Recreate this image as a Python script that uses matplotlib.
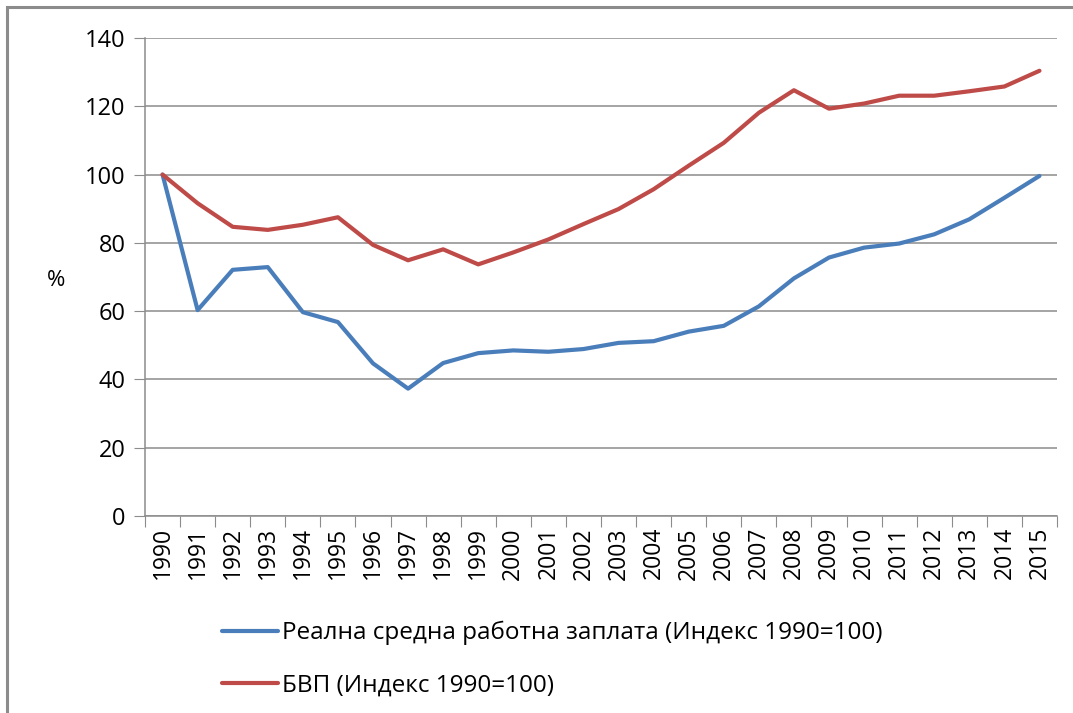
import matplotlib
matplotlib.use("Agg")
import matplotlib.pyplot as plt
from matplotlib.patches import Rectangle

years = [str(y) for y in range(1990, 2016)]
wage = [100, 60.3, 72.1, 72.9, 59.7, 56.8, 44.7, 37.3, 44.8, 47.7, 48.5, 48.1, 48.9,
        50.7, 51.2, 54.0, 55.7, 61.4, 69.6, 75.7, 78.6, 79.8, 82.5, 86.9, 93.2, 99.6]
gdp = [100, 91.6, 84.7, 83.8, 85.3, 87.5, 79.4, 74.9, 78.1, 73.7, 77.2, 81.0, 85.5,
       89.9, 95.7, 102.6, 109.3, 118.1, 124.7, 119.3, 120.8, 123.1, 123.1, 124.4, 125.8, 130.4]
wage_label = "Реална средна работна заплата (Индекс 1990=100)"
gdp_label = "БВП (Индекс 1990=100)"

plt.rcParams['font.family'] = ['Open Sans', 'DejaVu Sans']

W, H = 1073, 713
fig = plt.figure(figsize=(W / 100, H / 100), dpi=100)

# outer chart frame (cut off at right and bottom in the original)
fig.patches.append(Rectangle((7 / W, -0.1), 1.2, (H - 7) / H + 0.1, transform=fig.transFigure,
                             fill=False, edgecolor='#8c8c8c', linewidth=2.2))

ax = fig.add_axes([145 / W, (H - 516) / H, (1057 - 145) / W, (516 - 38) / H])
x = list(range(len(years)))
ax.plot(x, wage, color='#4A7EBB', linewidth=3.0, label=wage_label, solid_capstyle='round')
ax.plot(x, gdp, color='#BE4B48', linewidth=3.0, label=gdp_label, solid_capstyle='round')

ax.set_ylim(0, 140)
ax.set_yticks(range(0, 141, 20))
ax.set_xlim(-0.5, len(years) - 0.5)
ax.set_xticks([i - 0.5 for i in range(len(years) + 1)])
ax.set_xticklabels([])
ax.set_xticks(x, minor=True)
ax.set_xticklabels(years, minor=True, rotation=90, fontsize=16.5)
ax.tick_params(axis='x', which='major', length=8, color='#8c8c8c', direction='out')
ax.tick_params(axis='x', which='minor', length=0, pad=8)
ax.tick_params(axis='y', length=8, color='#8c8c8c', labelsize=17, pad=6)

ax.grid(axis='y', color='#8c8c8c', linewidth=1.1)
ax.set_axisbelow(True)
for s in ['top', 'right']:
    ax.spines[s].set_visible(False)
for s in ['left', 'bottom']:
    ax.spines[s].set_color('#8c8c8c')
    ax.spines[s].set_linewidth(1.1)

fig.text(56 / W, 1 - 280 / H, '%', fontsize=16, ha='center', va='center')

fig.legend(loc='upper left', bbox_to_anchor=(222 / W, 1 - 621 / H), frameon=False,
           fontsize=17.5, handlelength=2.3, handletextpad=0.15, labelspacing=1.17,
           borderpad=0, borderaxespad=0)

fig.savefig('out.png', dpi=100)
